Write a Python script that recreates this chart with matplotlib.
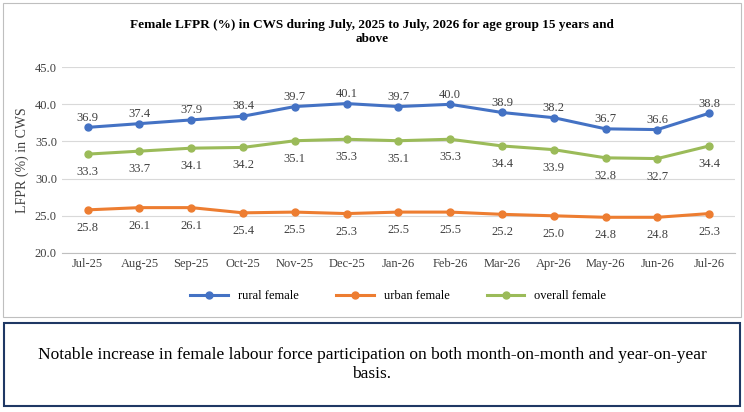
import matplotlib.pyplot as plt
from matplotlib.patches import Rectangle

months = ["Jul-25", "Aug-25", "Sep-25", "Oct-25", "Nov-25", "Dec-25", "Jan-26",
          "Feb-26", "Mar-26", "Apr-26", "May-26", "Jun-26", "Jul-26"]
rural = [36.9, 37.4, 37.9, 38.4, 39.7, 40.1, 39.7, 40.0, 38.9, 38.2, 36.7, 36.6, 38.8]
urban = [25.8, 26.1, 26.1, 25.4, 25.5, 25.3, 25.5, 25.5, 25.2, 25.0, 24.8, 24.8, 25.3]
overall = [33.3, 33.7, 34.1, 34.2, 35.1, 35.3, 35.1, 35.3, 34.4, 33.9, 32.8, 32.7, 34.4]

plt.rcParams['font.family'] = ['Liberation Serif', 'DejaVu Serif']

fig = plt.figure(figsize=(7.44, 4.12), dpi=100)
ax = fig.add_axes([0.083, 0.386, 0.905, 0.451])

x = range(len(months))
series = [(rural, "#4472C4", "rural female", 7),
          (urban, "#ED7D31", "urban female", -13),
          (overall, "#9BBB59", "overall female", -13)]
for vals, col, lab, off in series:
    ax.plot(x, vals, color=col, lw=2.2, marker="o", ms=5, label=lab)
    for i, v in enumerate(vals):
        ax.annotate(f"{v:.1f}", (i, v), xytext=(0, off), textcoords="offset points",
                    ha="center", va="center", fontsize=9, color="#404040")

ax.set_ylim(20, 45)
ax.set_yticks([20, 25, 30, 35, 40, 45])
ax.set_yticklabels([f"{t:.1f}" for t in [20, 25, 30, 35, 40, 45]])
ax.set_xlim(-0.5, len(months) - 0.5)
ax.set_xticks(list(x))
ax.set_xticklabels(months)
ax.tick_params(labelsize=9, length=0, colors="#404040")
ax.grid(axis="y", color="#D9D9D9", lw=0.8)
ax.set_axisbelow(True)
for s in ["top", "right", "left"]:
    ax.spines[s].set_visible(False)
ax.spines["bottom"].set_color("#BFBFBF")
ax.set_ylabel("LFPR (%) in CWS", fontsize=10, color="#404040")

fig.text(0.5, 0.955, "Female LFPR (%) in CWS during July, 2025 to July, 2026 for age group 15 years and\nabove",
         ha="center", va="top", fontsize=9.5, fontweight="bold", linespacing=1.3)
ax.legend(loc="upper center", bbox_to_anchor=(0.5, -0.14), ncol=3, frameon=False,
          fontsize=9, handlelength=3, columnspacing=3)

fig.patches.append(Rectangle((0.004, 0.23), 0.992, 0.762, transform=fig.transFigure,
                             fill=False, edgecolor="#BFBFBF", lw=0.8))
fig.patches.append(Rectangle((0.006, 0.015), 0.989, 0.2, transform=fig.transFigure,
                             fill=False, edgecolor="#1F3864", lw=1.5))
fig.text(0.5, 0.115, "Notable increase in female labour force participation on both month-on-month and year-on-year\nbasis.",
         ha="center", va="center", fontsize=12.5, linespacing=1.3)

fig.savefig("out.png", dpi=100)
